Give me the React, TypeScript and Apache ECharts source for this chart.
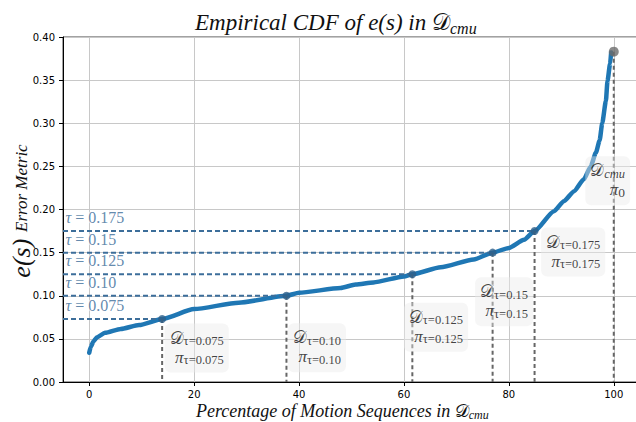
import React, { useEffect, useRef } from 'react';
import * as echarts from 'echarts';

// Empirical CDF curve (percentage of sequences, error metric)
const curvePct = [0, 0.3, 0.8, 1.5, 3, 6, 9.5, 13.9, 20, 28.5, 37.6, 40, 47.9, 50.8, 54.2, 60, 61.6, 67, 73.3, 76.9, 80, 82.9, 84.9, 88.6, 90.5, 92.4, 94.3, 95.6, 96.6, 97.3, 97.8, 98.5, 98.8, 99.3, 99.5];
const curveErr = [0.034, 0.041, 0.047, 0.052, 0.057, 0.0615, 0.066, 0.073, 0.0845, 0.092, 0.1, 0.1035, 0.109, 0.113, 0.1155, 0.1224, 0.125, 0.133, 0.142, 0.15, 0.1555, 0.165, 0.175, 0.198, 0.2097, 0.221, 0.235, 0.25, 0.266, 0.28, 0.3, 0.326, 0.349, 0.369, 0.382];

// thresholds
const tauNames = ['0.075', '0.10', '0.125', '0.15', '0.175'];
const tauPct = [13.9, 37.6, 61.6, 76.9, 84.9];
const tauErr = [0.073, 0.1, 0.125, 0.15, 0.175];
const basePct = 100;
const baseErr = 0.383;

const xMin = -5;
const xMax = 105;
const yMin = 0;
const yMax = 0.4;
const yStep = 0.05;

// styles / placement (px offsets from anchor points)
const annOffsets = [[3, 5], [2, 28], [-8, 29], [-17, 25], [7, -3]];
const baseAnnOffset = [-28, 105];

const SERIF = '"Liberation Serif", "DejaVu Serif", serif';
const SANS = '"DejaVu Sans", sans-serif';

export default function App() {
  const ref = useRef<HTMLDivElement>(null);
  useEffect(() => {
    const chart = echarts.init(ref.current!, null, { renderer: 'svg' });
    const blue = '#1f77b4';
    const dashBlue = '#3c6e9a';
    const gray = '#666666';
    const series: any[] = [];
    series.push({
      type: 'line',
      data: curvePct.map((p, i) => [p, curveErr[i]]),
      symbol: 'none',
      showSymbol: false,
      smooth: 0.2,
      smoothMonotone: 'x',
      lineStyle: { color: blue, width: 4.5, cap: 'round', join: 'round' },
      z: 2,
      silent: true,
    });
    tauPct.forEach((p, i) => {
      series.push({
        type: 'line',
        data: [[xMin, tauErr[i]], [p, tauErr[i]]],
        symbol: 'none',
        lineStyle: { color: dashBlue, width: 2, type: [5, 3] },
        z: 3,
        silent: true,
      });
      series.push({
        type: 'line',
        data: [[p, tauErr[i]], [p, 0]],
        symbol: 'none',
        lineStyle: { color: gray, width: 2, type: [4, 3] },
        z: 3,
        silent: true,
      });
    });
    series.push({
      type: 'line',
      data: [[basePct, baseErr], [basePct, 0]],
      symbol: 'none',
      lineStyle: { color: gray, width: 2, type: [4, 3] },
      z: 3,
      silent: true,
    });
    // tau text labels
    const tauColor = '#3a6b98';
    const halo = 'rgba(255,255,255,0.85)';
    series.push({
      type: 'scatter',
      data: tauErr.map((e, i) => ({ value: [xMin, e], label: { formatter: '{t|τ} = ' + tauNames[i] } })),
      symbolSize: 1,
      itemStyle: { color: 'rgba(0,0,0,0)' },
      label: {
        show: true,
        position: [3, -21],
        align: 'left',
        verticalAlign: 'top',
        fontFamily: SERIF,
        fontSize: 16,
        fontWeight: 'normal',
        color: tauColor,
        textBorderColor: halo,
        textBorderWidth: 2,
        rich: {
          t: { fontFamily: SERIF, fontStyle: 'italic', fontSize: 16, color: tauColor, textBorderColor: halo, textBorderWidth: 2 },
        },
      },
      z: 5,
      silent: true,
    });
    // dots
    series.push({
      type: 'scatter',
      data: tauPct.map((p, i) => [p, tauErr[i]]),
      symbolSize: 8,
      itemStyle: { color: '#2d5f8a' },
      z: 6,
      silent: true,
    });
    series.push({
      type: 'scatter',
      data: [[basePct, baseErr]],
      symbolSize: 10,
      itemStyle: { color: '#6b6b6b' },
      z: 6,
      silent: true,
    });
    const rich = {
      D: { fontFamily: SERIF, fontSize: 17, fontWeight: 'normal', lineHeight: 19, align: 'right', color: '#111' },
      P: { fontFamily: SERIF, fontStyle: 'italic', fontSize: 17, lineHeight: 19, align: 'right', color: '#111' },
      s: { fontFamily: SERIF, fontSize: 12.5, lineHeight: 13, verticalAlign: 'bottom', align: 'right', color: '#111' },
      si: { fontFamily: SERIF, fontStyle: 'italic', fontSize: 12.5, lineHeight: 13, verticalAlign: 'bottom', align: 'right', color: '#111' },
      s0: { fontFamily: SERIF, fontSize: 13.5, lineHeight: 14, verticalAlign: 'bottom', align: 'right', color: '#111' },
    };
    const boxLabel = {
      show: true,
      align: 'left',
      verticalAlign: 'top',
      backgroundColor: 'rgba(235,235,235,0.55)',
      borderRadius: 6,
      padding: [5, 5, 6, 5],
      rich,
    };
    series.push({
      type: 'scatter',
      data: tauPct.map((p, i) => ({
        value: [p, tauErr[i]],
        label: {
          position: annOffsets[i],
          formatter: '{D|𝒟}{s|τ=' + tauNames[i] + '}\n{P|π}{s|τ=' + tauNames[i] + '}',
        },
      })),
      symbolSize: 1,
      itemStyle: { color: 'rgba(0,0,0,0)' },
      label: boxLabel,
      z: 8,
      silent: true,
    });
    series.push({
      type: 'scatter',
      data: [{
        value: [basePct, baseErr],
        label: { position: baseAnnOffset, formatter: '{D|𝒟}{si|cmu}\n{P|π}{s0|0}' },
      }],
      symbolSize: 1,
      itemStyle: { color: 'rgba(0,0,0,0)' },
      label: boxLabel,
      z: 8,
      silent: true,
    });

    chart.setOption({
      animation: false,
      title: [
        {
          text: '{t|Empirical CDF of }{e|e(s)}{t| in }{d|𝒟}{s|cmu}',
          left: 190,
          top: 3,
          textStyle: {
            fontWeight: 'normal',
            rich: {
              t: { fontFamily: SERIF, fontStyle: 'italic', fontWeight: 'normal', fontSize: 23, lineHeight: 28, color: '#111' },
              e: { fontFamily: SERIF, fontStyle: 'italic', fontWeight: 'normal', fontSize: 23, lineHeight: 28, color: '#111' },
              d: { fontFamily: SERIF, fontWeight: 'normal', fontSize: 23, lineHeight: 28, color: '#111' },
              s: { fontFamily: SERIF, fontStyle: 'italic', fontWeight: 'normal', fontSize: 16, lineHeight: 17, verticalAlign: 'bottom', color: '#111' },
            },
          },
        },
        {
          text: '{t|Percentage of Motion Sequences in }{d|𝒟}{s|cmu}',
          left: 191,
          top: 396,
          textStyle: {
            fontWeight: 'normal',
            rich: {
              t: { fontFamily: SERIF, fontStyle: 'italic', fontWeight: 'normal', fontSize: 18, lineHeight: 20, color: '#111' },
              d: { fontFamily: SERIF, fontWeight: 'normal', fontSize: 18, lineHeight: 20, color: '#111' },
              s: { fontFamily: SERIF, fontStyle: 'italic', fontWeight: 'normal', fontSize: 12, lineHeight: 12, verticalAlign: 'bottom', color: '#111' },
            },
          },
        },
      ],
      graphic: [
        {
          type: 'text',
          x: 21,
          y: 211,
          rotation: Math.PI / 2,
          silent: true,
          style: {
            text: '{e|e(s)}  {m|Error Metric}',
            align: 'center',
            verticalAlign: 'middle',
            rich: {
              e: { fontFamily: SERIF, fontStyle: 'italic', fontSize: 26, lineHeight: 26, fill: '#111', color: '#111' },
              m: { fontFamily: SERIF, fontStyle: 'italic', fontSize: 17, lineHeight: 26, fill: '#111', color: '#111' },
            },
          },
        },
      ],
      grid: { left: 63, top: 37, width: 577, height: 345, show: true, borderColor: '#444', borderWidth: 1, outerBoundsMode: 'none', containLabel: false },
      xAxis: {
        type: 'value',
        min: xMin,
        max: xMax,
        splitNumber: 5,
        axisLine: { show: true, onZero: false, lineStyle: { color: '#000', width: 1 } },
        axisTick: { show: true, length: 4, lineStyle: { color: '#000' } },
        axisLabel: { fontFamily: SANS, fontSize: 10, color: '#000', margin: 7, showMinLabel: false, showMaxLabel: false },
        splitLine: { show: true, lineStyle: { color: '#c8c8c8', width: 1 } },
      },
      yAxis: {
        type: 'value',
        min: yMin,
        max: yMax,
        interval: yStep,
        axisLine: { show: true, onZero: false, lineStyle: { color: '#000', width: 1 } },
        axisTick: { show: true, length: 4, lineStyle: { color: '#000' } },
        axisLabel: { fontFamily: SANS, fontSize: 10, color: '#000', margin: 8, formatter: (v: number) => v.toFixed(2) },
        splitLine: { show: true, lineStyle: { color: '#c8c8c8', width: 1 } },
      },
      series,
    });
    return () => chart.dispose();
  }, []);
  return <div ref={ref} style={{ width: 636, height: 422, position: 'absolute', left: 0, top: 0 }} />;
}
